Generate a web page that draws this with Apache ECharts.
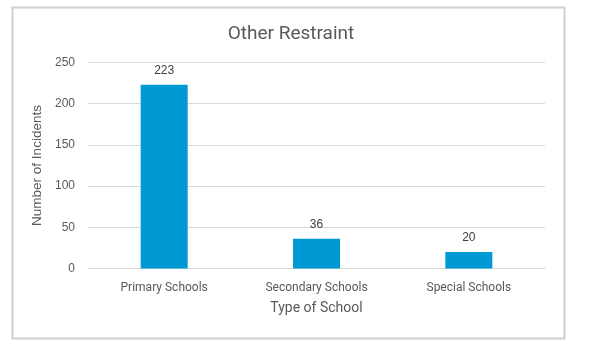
<!DOCTYPE html>
<html><head><meta charset="utf-8">
<script src="https://cdn.jsdelivr.net/npm/echarts@6/dist/echarts.min.js"></script>
<style>html,body{margin:0;padding:0;background:#fff;}#c{width:607px;height:356px;}</style>
</head><body><div id="c"></div>
<script>
const categories = ["Primary Schools", "Secondary Schools", "Special Schools"];
const incidents = [223, 36, 20];
const yTicks = [0, 50, 100, 150, 200, 250];

const chart = echarts.init(document.getElementById('c'), null, {renderer: 'canvas'});
chart.setOption({
  animation: false,
  backgroundColor: '#ffffff',
  graphic: [{
    type: 'rect', left: 10, top: 5, shape: {width: 552, height: 331},
    style: {fill: 'none', stroke: '#d0d0d0', lineWidth: 2}, z: -1
  }],
  title: {
    text: 'Other Restraint', left: 286, top: 20, textAlign: 'center',
    textStyle: {fontFamily: 'Roboto', fontSize: 19, fontWeight: 'normal', color: '#595959'}
  },
  grid: {left: 88, top: 62.5, width: 457, height: 206, containLabel: false},
  xAxis: {
    type: 'category', data: categories,
    name: 'Type of School', nameLocation: 'middle', nameGap: 33,
    nameTextStyle: {fontFamily: 'Roboto', fontSize: 14, color: '#595959'},
    axisLine: {lineStyle: {color: '#d9d9d9', width: 1}},
    axisTick: {show: false},
    axisLabel: {fontFamily: 'Roboto', fontSize: 12, color: '#595959', margin: 13}
  },
  yAxis: {
    type: 'value', min: yTicks[0], max: yTicks[yTicks.length - 1], interval: 50,
    name: 'Number of Incidents', nameLocation: 'middle', nameGap: 30,
    nameTextStyle: {fontFamily: 'Liberation Sans', fontSize: 13.5, color: '#595959'},
    axisLine: {show: false}, axisTick: {show: false},
    axisLabel: {fontFamily: 'Liberation Sans', fontSize: 12, color: '#595959', margin: 13},
    splitLine: {lineStyle: {color: '#d9d9d9', width: 1}}
  },
  series: [{
    type: 'bar', data: incidents, barWidth: 47,
    itemStyle: {color: '#0099d4'},
    label: {show: true, position: 'top', distance: 8, fontFamily: 'Liberation Sans', fontSize: 12, color: '#404040'}
  }]
});
</script></body></html>
